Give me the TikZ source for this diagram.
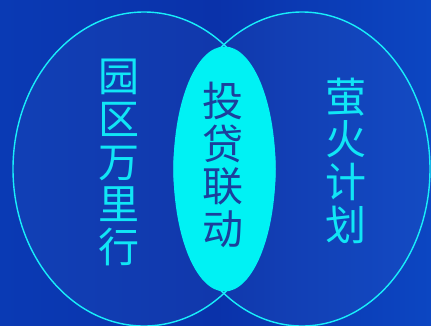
\documentclass[tikz,border=0pt]{standalone}
\usepackage{fontspec}
\newfontfamily\cjk{Noto Sans CJK SC}
\usetikzlibrary{shapes.geometric}
\definecolor{bgL}{HTML}{0A3AB4}
\definecolor{bgM}{HTML}{0A32AA}
\definecolor{bgR}{HTML}{0C46C2}
\definecolor{ring}{HTML}{18EEFA}
\definecolor{lens}{HTML}{00F2F4}
\definecolor{lenstext}{HTML}{1C3F9C}
\definecolor{cyantext}{HTML}{10E6F6}
\tikzset{
  ring/.style={ellipse, draw=ring, line width=1.4pt, inner sep=0pt},
  coltext/.style={align=center, inner sep=0pt, text=cyantext,
    font=\cjk\fontsize{41}{42.7}\selectfont},
}
\begin{document}
\begin{tikzpicture}[x=1pt,y=-1pt]
\useasboundingbox (0,0) rectangle (431,325);
\shade[left color=bgL, right color=bgR, middle color=bgM] (0,0) rectangle (431,325);
% soft inner glow
\fill[white, opacity=0.03] (144,169) ellipse [x radius=131pt, y radius=157pt];
\fill[white, opacity=0.03] (302,169) ellipse [x radius=128pt, y radius=157pt];
\node[ring, minimum width=262pt, minimum height=314pt] (L) at (144,169) {};
\node[ring, minimum width=256pt, minimum height=314pt] (R) at (302,169) {};
\node[ellipse, fill=lens, inner sep=0pt, minimum width=102pt, minimum height=245pt] (M) at (224.5,169) {};
\node[coltext] (lt) at (119,162.5) {园\\区\\万\\里\\行};
\node[coltext] (rt) at (346,160.5) {萤\\火\\计\\划};
\node[coltext, text=lenstext] (mt) at (223,165) {投\\贷\\联\\动};
\end{tikzpicture}
\end{document}
